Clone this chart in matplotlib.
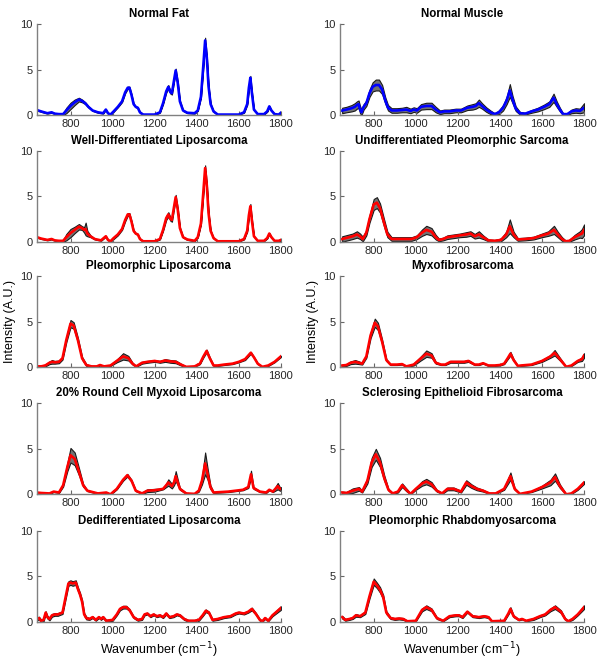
import numpy as np
import matplotlib
matplotlib.use("Agg")
import matplotlib.pyplot as plt

plt.rcParams["font.family"] = ["Liberation Sans", "DejaVu Sans"]

# (wavenumber, mean intensity, std)
normal_fat = [(640,0.55,0.05),(660,0.4,0.05),(690,0.2,0.05),(710,0.3,0.05),(725,0.15,0.05),(745,0.1,0.05),(765,0.1,0.1),(780,0.5,0.3),(800,1.0,0.35),(820,1.4,0.3),(840,1.7,0.2),(855,1.55,0.15),(870,1.3,0.1),(885,0.9,0.08),(905,0.5,0.05),(930,0.3,0.05),(955,0.2,0.05),(968,0.6,0.05),(978,0.2,0.05),(990,0.05,0.05),(1005,0.4,0.05),(1025,0.9,0.05),(1045,1.5,0.08),(1060,2.5,0.1),(1072,3.0,0.12),(1080,3.0,0.12),(1090,2.2,0.1),(1100,1.2,0.08),(1110,0.9,0.05),(1120,0.8,0.05),(1130,0.3,0.05),(1145,0.05,0.05),(1200,0.05,0.05),(1225,0.3,0.05),(1240,1.3,0.1),(1255,2.6,0.15),(1265,3.1,0.2),(1275,2.5,0.15),(1282,2.4,0.15),(1292,3.8,0.15),(1300,4.9,0.2),(1310,3.5,0.15),(1320,1.5,0.1),(1335,0.5,0.05),(1355,0.25,0.05),(1390,0.2,0.05),(1405,0.5,0.05),(1420,2.0,0.1),(1430,5.0,0.2),(1440,8.2,0.3),(1448,6.3,0.2),(1456,3.2,0.1),(1466,1.2,0.05),(1480,0.4,0.05),(1500,0.05,0.03),(1600,0.05,0.03),(1625,0.3,0.05),(1640,1.2,0.1),(1648,3.0,0.15),(1655,4.1,0.2),(1662,2.5,0.15),(1672,0.6,0.05),(1690,0.1,0.03),(1720,0.1,0.03),(1735,0.4,0.05),(1745,0.95,0.08),(1755,0.5,0.05),(1770,0.1,0.03),(1790,0.05,0.03),(1800,0.25,0.1)]

normal_muscle = [(650,0.5,0.3),(670,0.6,0.3),(695,0.75,0.35),(710,0.9,0.4),(720,1.1,0.4),(728,1.2,0.4),(735,0.6,0.4),(742,0.3,0.3),(752,0.9,0.3),(765,1.3,0.3),(780,2.4,0.4),(795,3.1,0.5),(810,3.3,0.6),(825,3.3,0.6),(840,2.8,0.5),(855,1.6,0.35),(868,0.8,0.3),(885,0.5,0.25),(910,0.5,0.25),(935,0.55,0.25),(955,0.6,0.3),(975,0.45,0.25),(990,0.6,0.25),(1005,0.5,0.25),(1025,0.9,0.3),(1050,1.0,0.35),(1075,1.0,0.35),(1095,0.6,0.3),(1115,0.3,0.2),(1135,0.4,0.2),(1160,0.4,0.2),(1190,0.5,0.2),(1215,0.5,0.2),(1245,0.8,0.25),(1270,0.9,0.3),(1285,1.0,0.3),(1300,1.3,0.4),(1315,1.0,0.3),(1335,0.6,0.25),(1355,0.3,0.2),(1375,0.1,0.1),(1395,0.3,0.2),(1415,0.8,0.3),(1432,1.6,0.4),(1447,2.7,0.7),(1460,1.7,0.4),(1475,0.7,0.25),(1495,0.2,0.15),(1520,0.15,0.1),(1550,0.4,0.15),(1580,0.6,0.2),(1610,0.9,0.25),(1635,1.2,0.3),(1655,1.9,0.45),(1670,1.2,0.3),(1685,0.6,0.2),(1700,0.1,0.1),(1720,0.1,0.1),(1740,0.4,0.2),(1760,0.5,0.25),(1780,0.45,0.25),(1800,0.8,0.5)]

wd_lipo = [(640,0.5,0.05),(660,0.35,0.05),(690,0.2,0.05),(710,0.3,0.05),(725,0.15,0.05),(745,0.1,0.05),(765,0.1,0.1),(780,0.5,0.35),(800,0.95,0.45),(820,1.3,0.35),(840,1.65,0.3),(855,1.5,0.2),(865,1.3,0.3),(872,1.4,0.7),(880,0.9,0.3),(895,0.6,0.1),(915,0.3,0.05),(945,0.15,0.05),(968,0.6,0.05),(978,0.2,0.05),(990,0.05,0.05),(1005,0.4,0.1),(1025,0.8,0.1),(1045,1.4,0.1),(1060,2.4,0.15),(1072,3.0,0.15),(1080,3.0,0.15),(1090,2.2,0.1),(1100,1.2,0.08),(1110,0.9,0.05),(1120,0.8,0.05),(1130,0.3,0.05),(1145,0.05,0.05),(1200,0.05,0.05),(1225,0.3,0.05),(1240,1.3,0.1),(1255,2.6,0.2),(1265,3.0,0.25),(1275,2.5,0.2),(1282,2.4,0.2),(1292,3.8,0.2),(1300,4.9,0.25),(1310,3.5,0.15),(1320,1.5,0.1),(1335,0.5,0.05),(1355,0.25,0.05),(1390,0.1,0.05),(1405,0.5,0.05),(1420,2.0,0.1),(1430,5.0,0.2),(1440,8.1,0.3),(1448,6.2,0.2),(1456,3.2,0.1),(1466,1.2,0.05),(1480,0.4,0.05),(1500,0.05,0.03),(1600,0.05,0.03),(1625,0.3,0.05),(1640,1.2,0.1),(1648,2.9,0.15),(1655,3.9,0.25),(1662,2.4,0.15),(1672,0.6,0.05),(1690,0.1,0.03),(1720,0.1,0.03),(1735,0.4,0.05),(1745,0.9,0.08),(1755,0.5,0.05),(1770,0.1,0.03),(1790,0.1,0.03),(1800,0.2,0.1)]

ups = [(650,0.3,0.3),(675,0.45,0.3),(700,0.6,0.3),(720,0.8,0.35),(735,0.6,0.3),(748,0.3,0.25),(765,1.0,0.3),(780,2.5,0.4),(800,4.1,0.6),(815,4.3,0.6),(830,3.7,0.5),(850,2.0,0.4),(865,0.8,0.3),(885,0.3,0.2),(920,0.3,0.2),(950,0.3,0.2),(980,0.3,0.2),(1005,0.5,0.2),(1030,1.0,0.35),(1050,1.3,0.45),(1075,1.1,0.4),(1095,0.5,0.25),(1110,0.2,0.15),(1130,0.3,0.15),(1150,0.5,0.2),(1180,0.6,0.2),(1210,0.7,0.2),(1240,0.8,0.25),(1260,0.9,0.25),(1280,0.6,0.25),(1300,0.8,0.35),(1320,0.5,0.2),(1345,0.15,0.1),(1375,0.1,0.1),(1405,0.2,0.15),(1430,0.8,0.3),(1447,1.7,0.75),(1465,0.8,0.3),(1485,0.25,0.15),(1520,0.3,0.15),(1560,0.4,0.15),(1600,0.7,0.2),(1630,0.9,0.25),(1657,1.3,0.45),(1675,0.8,0.3),(1695,0.3,0.2),(1712,0.05,0.1),(1730,0.1,0.1),(1755,0.5,0.25),(1780,0.8,0.35),(1790,0.9,0.5),(1800,1.3,0.6)]

pleo_lipo = [(640,0.1,0.1),(660,0.1,0.1),(680,0.2,0.1),(700,0.5,0.15),(712,0.6,0.2),(725,0.55,0.15),(745,0.6,0.15),(762,1.0,0.15),(780,3.0,0.25),(800,4.8,0.4),(815,4.6,0.35),(835,3.0,0.25),(855,1.0,0.15),(875,0.25,0.1),(900,0.1,0.05),(925,0.1,0.05),(940,0.25,0.05),(960,0.1,0.05),(990,0.2,0.05),(1020,0.7,0.15),(1050,1.2,0.35),(1075,1.0,0.25),(1095,0.4,0.1),(1112,0.1,0.05),(1140,0.5,0.1),(1165,0.6,0.1),(1200,0.7,0.1),(1225,0.6,0.1),(1250,0.75,0.15),(1275,0.65,0.15),(1300,0.6,0.15),(1325,0.3,0.1),(1350,0.05,0.05),(1390,0.1,0.05),(1415,0.4,0.05),(1432,1.2,0.1),(1447,1.8,0.15),(1462,1.0,0.1),(1480,0.2,0.05),(1500,0.2,0.05),(1530,0.3,0.05),(1570,0.4,0.05),(1600,0.6,0.05),(1630,0.9,0.1),(1657,1.6,0.1),(1672,1.1,0.05),(1690,0.4,0.05),(1712,0.05,0.03),(1740,0.2,0.05),(1770,0.6,0.05),(1800,1.2,0.08)]

myxofibro = [(650,0.2,0.1),(670,0.25,0.1),(690,0.5,0.15),(712,0.6,0.2),(730,0.5,0.15),(745,0.4,0.1),(765,1.2,0.15),(785,3.5,0.3),(805,4.9,0.45),(820,4.5,0.4),(840,2.8,0.25),(860,0.8,0.1),(880,0.3,0.05),(910,0.3,0.05),(935,0.35,0.05),(955,0.1,0.05),(990,0.3,0.1),(1020,0.9,0.2),(1050,1.5,0.35),(1075,1.3,0.25),(1095,0.5,0.1),(1120,0.3,0.05),(1140,0.3,0.05),(1165,0.6,0.1),(1200,0.6,0.1),(1230,0.6,0.1),(1250,0.7,0.1),(1280,0.3,0.05),(1300,0.3,0.05),(1320,0.45,0.05),(1345,0.2,0.05),(1375,0.2,0.05),(1400,0.25,0.05),(1420,0.4,0.05),(1437,1.0,0.1),(1450,1.5,0.2),(1465,0.8,0.1),(1485,0.15,0.05),(1500,0.2,0.05),(1550,0.3,0.05),(1600,0.7,0.1),(1640,1.2,0.15),(1660,1.6,0.3),(1685,0.9,0.15),(1715,0.05,0.03),(1740,0.2,0.05),(1770,0.7,0.1),(1790,0.9,0.2),(1800,1.3,0.25)]

round_cell = [(640,0.2,0.05),(660,0.15,0.05),(700,0.1,0.05),(720,0.3,0.05),(745,0.2,0.05),(765,1.0,0.15),(785,3.0,0.45),(800,4.3,0.8),(820,3.9,0.7),(840,2.5,0.4),(860,1.0,0.15),(880,0.4,0.05),(930,0.1,0.05),(970,0.2,0.05),(990,0.0,0.03),(1020,0.6,0.05),(1050,1.6,0.1),(1070,2.1,0.15),(1090,1.5,0.1),(1110,0.4,0.05),(1140,0.1,0.05),(1165,0.4,0.15),(1200,0.45,0.15),(1240,0.6,0.05),(1255,1.0,0.2),(1265,1.3,0.35),(1282,0.9,0.25),(1292,1.3,0.3),(1300,2.0,0.55),(1310,1.3,0.3),(1320,0.6,0.1),(1350,0.1,0.05),(1390,0.05,0.03),(1410,0.4,0.1),(1425,1.5,0.4),(1440,3.4,1.2),(1452,2.2,0.6),(1465,0.8,0.2),(1480,0.2,0.05),(1550,0.3,0.05),(1620,0.5,0.05),(1645,0.8,0.1),(1658,2.2,0.4),(1670,0.7,0.1),(1700,0.3,0.05),(1730,0.2,0.05),(1745,0.5,0.05),(1762,0.3,0.05),(1785,0.9,0.35),(1795,0.6,0.2),(1800,0.6,0.2)]

sclerosing = [(650,0.2,0.1),(670,0.15,0.1),(700,0.4,0.25),(730,0.6,0.2),(745,0.3,0.1),(770,1.5,0.3),(790,3.5,0.5),(810,4.4,0.6),(830,3.5,0.5),(850,1.8,0.3),(870,0.5,0.1),(890,0.1,0.05),(915,0.3,0.1),(935,1.0,0.2),(955,0.5,0.15),(975,0.05,0.05),(1000,0.6,0.1),(1030,1.2,0.25),(1050,1.4,0.3),(1075,1.1,0.25),(1100,0.4,0.1),(1125,0.1,0.05),(1150,0.6,0.15),(1180,0.6,0.15),(1215,0.3,0.1),(1240,1.3,0.25),(1265,0.9,0.2),(1290,0.6,0.15),(1320,0.4,0.1),(1350,0.1,0.05),(1380,0.1,0.05),(1420,0.6,0.1),(1450,2.0,0.4),(1470,0.6,0.1),(1495,0.05,0.03),(1550,0.3,0.05),(1600,0.8,0.15),(1640,1.3,0.3),(1662,1.9,0.4),(1685,0.9,0.2),(1715,0.0,0.03),(1740,0.1,0.05),(1770,0.6,0.1),(1800,1.3,0.15)]

dediff = [(640,0.3,0.15),(650,0.4,0.15),(660,0.1,0.15),(672,0.2,0.15),(682,1.0,0.15),(690,0.5,0.15),(700,0.3,0.15),(712,0.7,0.15),(725,0.8,0.15),(740,0.8,0.15),(750,0.9,0.15),(762,1.0,0.15),(775,2.5,0.2),(790,4.2,0.25),(800,4.3,0.25),(810,4.2,0.25),(825,4.3,0.25),(835,3.6,0.2),(845,3.0,0.2),(855,2.2,0.2),(865,0.8,0.15),(875,0.4,0.15),(890,0.3,0.1),(905,0.5,0.1),(920,0.2,0.1),(935,0.5,0.1),(945,0.3,0.1),(955,0.5,0.1),(970,0.1,0.1),(1000,0.2,0.1),(1020,0.8,0.1),(1035,1.4,0.15),(1050,1.6,0.15),(1065,1.6,0.15),(1080,1.3,0.1),(1100,0.5,0.1),(1120,0.2,0.1),(1140,0.3,0.1),(1152,0.8,0.1),(1165,0.9,0.1),(1180,0.6,0.1),(1195,0.8,0.1),(1210,0.6,0.1),(1225,0.7,0.1),(1240,0.5,0.1),(1255,0.9,0.1),(1270,0.5,0.1),(1290,0.6,0.1),(1305,0.8,0.1),(1320,0.7,0.1),(1340,0.3,0.1),(1360,0.1,0.1),(1390,0.1,0.1),(1410,0.2,0.1),(1428,0.7,0.1),(1443,1.2,0.15),(1458,1.0,0.1),(1475,0.2,0.1),(1500,0.3,0.1),(1530,0.5,0.1),(1560,0.6,0.1),(1585,0.9,0.1),(1600,1.0,0.1),(1625,0.9,0.1),(1645,1.1,0.1),(1662,1.4,0.15),(1680,0.9,0.1),(1700,0.2,0.1),(1712,0.05,0.05),(1725,0.4,0.1),(1740,0.1,0.05),(1760,0.7,0.1),(1780,1.1,0.15),(1800,1.5,0.2)]

rhabdo = [(650,0.5,0.15),(665,0.2,0.1),(685,0.3,0.1),(700,0.4,0.1),(715,0.7,0.15),(735,0.6,0.1),(760,1.0,0.15),(780,2.8,0.25),(800,4.4,0.35),(815,4.0,0.3),(830,3.5,0.3),(845,2.7,0.25),(860,1.0,0.15),(880,0.4,0.1),(900,0.3,0.1),(920,0.35,0.1),(940,0.3,0.1),(960,0.05,0.05),(1000,0.1,0.05),(1030,1.3,0.15),(1050,1.6,0.2),(1075,1.3,0.15),(1100,0.4,0.1),(1130,0.1,0.05),(1160,0.6,0.1),(1190,0.7,0.1),(1205,0.7,0.1),(1222,0.5,0.1),(1245,1.1,0.1),(1270,0.6,0.1),(1300,0.5,0.1),(1325,0.6,0.1),(1345,0.5,0.1),(1362,0.05,0.05),(1420,0.1,0.05),(1440,0.9,0.1),(1450,1.4,0.2),(1465,0.6,0.1),(1490,0.2,0.05),(1505,0.3,0.05),(1525,0.1,0.05),(1560,0.3,0.1),(1590,0.6,0.1),(1615,0.8,0.1),(1640,1.3,0.15),(1662,1.6,0.2),(1690,1.1,0.15),(1710,0.3,0.1),(1725,0.05,0.05),(1745,0.3,0.1),(1770,0.8,0.1),(1800,1.6,0.2)]

panels = [normal_fat, normal_muscle, wd_lipo, ups, pleo_lipo, myxofibro,
          round_cell, sclerosing, dediff, rhabdo]
titles = ["Normal Fat", "Normal Muscle",
          "Well-Differentiated Liposarcoma", "Undifferentiated Pleomorphic Sarcoma",
          "Pleomorphic Liposarcoma", "Myxofibrosarcoma",
          "20% Round Cell Myxoid Liposarcoma", "Sclerosing Epithelioid Fibrosarcoma",
          "Dedifferentiated Liposarcoma", "Pleomorphic Rhabdomyosarcoma"]
line_colors = ["#0000ff", "#0000ff"] + ["#ff0000"] * 8

fig = plt.figure(figsize=(6.04, 6.63), dpi=100)
lefts = [0.061, 0.563]
bottoms = [0.8265, 0.6354, 0.4460, 0.2544, 0.0623]
w, h = 0.404, 0.1372

for i, data in enumerate(panels):
    row, col = divmod(i, 2)
    ax = fig.add_axes([lefts[col], bottoms[row], w, h])
    d = np.array(data, dtype=float)
    wn, mean, sd = d[:, 0], d[:, 1], d[:, 2]
    ax.fill_between(wn, mean - sd, mean + sd, facecolor="0.45",
                    edgecolor="0.1", linewidth=0.8)
    ax.plot(wn, mean, color=line_colors[i], lw=1.9)
    ax.set_xlim(640, 1800)
    ax.set_ylim(0, 10)
    ax.set_xticks([800, 1000, 1200, 1400, 1600, 1800])
    ax.set_yticks([0, 5, 10])
    for s in ["top", "right"]:
        ax.spines[s].set_visible(False)
    for s in ["left", "bottom"]:
        ax.spines[s].set_color("0.5")
        ax.spines[s].set_linewidth(1.0)
    ax.tick_params(direction="in", length=3, width=0.8, color="0.4",
                   labelsize=8, labelcolor="0.15", pad=3)
    ax.set_title(titles[i], fontsize=8.3, fontweight="bold", pad=5)
    if row == 2:
        ax.set_ylabel("Intensity (A.U.)", fontsize=9, labelpad=3)
    if row == 4:
        ax.set_xlabel("Wavenumber (cm$^{-1}$)", fontsize=9, labelpad=3)

fig.savefig("out.png", dpi=100)
